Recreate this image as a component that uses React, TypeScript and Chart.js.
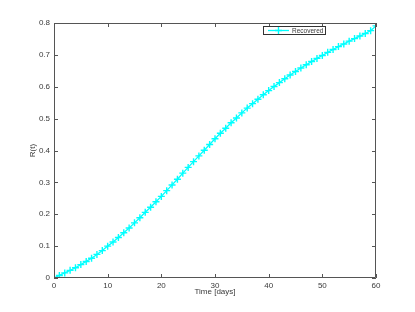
import React, { useEffect, useRef } from "react";
import { Chart, registerables } from "chart.js";

Chart.register(...registerables);

const days: number[] = Array.from({ length: 61 }, (_, i) => i);
const recovered: number[] = [
  0, 0.008, 0.016, 0.024, 0.032, 0.042, 0.052, 0.062, 0.074, 0.086,
  0.1, 0.113, 0.127, 0.142, 0.157, 0.173, 0.189, 0.206, 0.222, 0.239,
  0.256, 0.274, 0.292, 0.31, 0.329, 0.347, 0.365, 0.383, 0.401, 0.419,
  0.437, 0.454, 0.47, 0.487, 0.502, 0.518, 0.533, 0.547, 0.561, 0.575,
  0.588, 0.601, 0.613, 0.625, 0.637, 0.648, 0.659, 0.669, 0.679, 0.689,
  0.698, 0.708, 0.717, 0.726, 0.734, 0.743, 0.751, 0.759, 0.767, 0.776, 0.791,
];
const xTicks: number[] = [0, 10, 20, 30, 40, 50, 60];
const yTicks: number[] = [0, 0.1, 0.2, 0.3, 0.4, 0.5, 0.6, 0.7, 0.8];
const seriesLabel = "Recovered";
const seriesColor = "#00ffff";
const FONT = "'Liberation Sans', Arial, Helvetica, sans-serif";
const AXIS_COLOR = "#555";
const TEXT_COLOR = "#3a3a3a";

const boxPlugin = {
  id: "matlabBox",
  afterDraw(chart: any) {
    const { ctx, chartArea } = chart;
    const { left, right, top, bottom } = chartArea;
    const xs = chart.scales.x;
    const ys = chart.scales.y;
    const tl = 4;
    ctx.save();
    ctx.strokeStyle = AXIS_COLOR;
    ctx.lineWidth = 1;
    ctx.beginPath();
    ctx.rect(left + 0.5, top + 0.5, right - left - 1, bottom - top - 1);
    ctx.stroke();
    ctx.beginPath();
    xTicks.forEach((v) => {
      const px = Math.round(xs.getPixelForValue(v)) + 0.5;
      ctx.moveTo(px, bottom);
      ctx.lineTo(px, bottom - tl);
      ctx.moveTo(px, top);
      ctx.lineTo(px, top + tl);
    });
    yTicks.forEach((v) => {
      const py = Math.round(ys.getPixelForValue(v)) + 0.5;
      ctx.moveTo(left, py);
      ctx.lineTo(left + tl, py);
      ctx.moveTo(right, py);
      ctx.lineTo(right - tl, py);
    });
    ctx.stroke();

    // legend box
    const bx = right - 113;
    const by = top + 3;
    const bw = 63;
    const bh = 9;
    ctx.fillStyle = "#fff";
    ctx.fillRect(bx, by, bw, bh);
    ctx.strokeStyle = "#333";
    ctx.strokeRect(bx + 0.5, by + 0.5, bw - 1, bh - 1);
    const ly = by + bh / 2;
    ctx.strokeStyle = seriesColor;
    ctx.lineWidth = 1.3;
    ctx.beginPath();
    ctx.moveTo(bx + 5, ly);
    ctx.lineTo(bx + 26, ly);
    ctx.stroke();
    ctx.lineWidth = 1.4;
    ctx.beginPath();
    const cx = bx + 15.5;
    ctx.moveTo(cx - 3.5, ly);
    ctx.lineTo(cx + 3.5, ly);
    ctx.moveTo(cx, ly - 3.5);
    ctx.lineTo(cx, ly + 3.5);
    ctx.stroke();
    ctx.fillStyle = TEXT_COLOR;
    ctx.font = `6.5px ${FONT}`;
    ctx.textBaseline = "middle";
    ctx.textAlign = "left";
    ctx.fillText(chart.data.datasets[0].label, bx + 29, ly + 0.5);
    ctx.restore();
  },
};

export default function App() {
  const ref = useRef<HTMLCanvasElement | null>(null);
  useEffect(() => {
    document.body.style.margin = "0";
    const canvas = ref.current;
    if (!canvas) return;
    const chart = new Chart(canvas, {
      type: "line",
      data: {
        datasets: [
          {
            label: seriesLabel,
            data: days.map((d, i) => ({ x: d, y: recovered[i] })),
            borderColor: seriesColor,
            backgroundColor: seriesColor,
            borderWidth: 1.3,
            pointStyle: "cross",
            pointRadius: 3.5,
            pointBorderWidth: 1.4,
            pointBorderColor: seriesColor,
            tension: 0,
            fill: false,
          },
        ],
      },
      options: {
        animation: false,
        responsive: false,
        maintainAspectRatio: false,
        layout: { padding: { left: 0, right: 39, top: 23, bottom: 0 } },
        plugins: { legend: { display: false }, tooltip: { enabled: false } },
        scales: {
          x: {
            type: "linear",
            min: 0,
            max: 60,
            afterFit: (s: any) => {
              s.height = 34;
            },
            afterBuildTicks: (s: any) => {
              s.ticks = xTicks.map((v) => ({ value: v }));
            },
            grid: { display: false, drawTicks: false },
            border: { display: false },
            ticks: {
              padding: 3,
              color: TEXT_COLOR,
              font: { family: FONT, size: 8 },
              maxRotation: 0,
              autoSkip: false,
            },
            title: {
              display: true,
              text: "Time [days]",
              color: TEXT_COLOR,
              font: { family: FONT, size: 8 },
              padding: { top: 0, bottom: 15 },
            },
          },
          y: {
            type: "linear",
            min: 0,
            max: 0.8,
            afterFit: (s: any) => {
              s.width = 54;
            },
            afterBuildTicks: (s: any) => {
              s.ticks = yTicks.map((v) => ({ value: v }));
            },
            grid: { display: false, drawTicks: false },
            border: { display: false },
            ticks: {
              padding: 4,
              color: TEXT_COLOR,
              font: { family: FONT, size: 8 },
              autoSkip: false,
              callback: (v: any) => String(Math.round(Number(v) * 10) / 10),
            },
            title: {
              display: true,
              text: "R(t)",
              color: TEXT_COLOR,
              font: { family: FONT, size: 8 },
              padding: { top: 28, bottom: 0 },
            },
          },
        },
      },
      plugins: [boxPlugin],
    });
    return () => chart.destroy();
  }, []);
  return (
    <div style={{ width: 415, height: 312 }}>
      <canvas ref={ref} width={415} height={312} style={{ display: "block" }} />
    </div>
  );
}
